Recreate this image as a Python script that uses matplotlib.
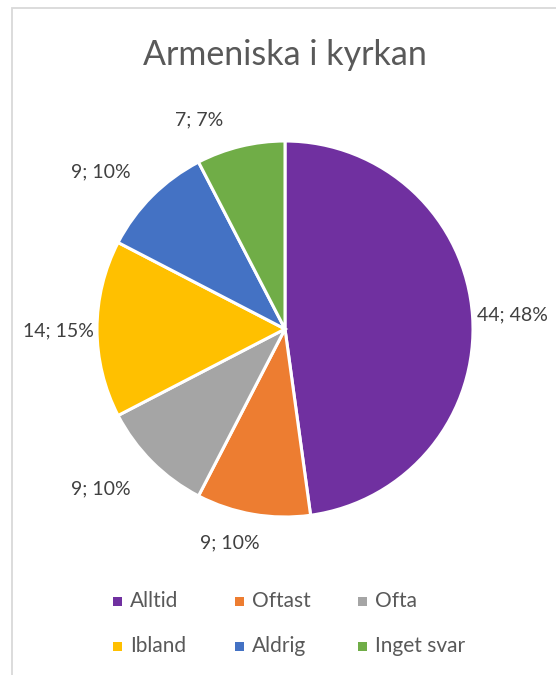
import matplotlib.pyplot as plt
from matplotlib.patches import Rectangle

# svar på frågan om armeniska i kyrkan
kategorier = ['Alltid', 'Oftast', 'Ofta', 'Ibland', 'Aldrig', 'Inget svar']
antal = [44, 9, 9, 14, 9, 7]
procent = [48, 10, 10, 15, 10, 7]
farger = ['#7030A0', '#ED7D31', '#A5A5A5', '#FFC000', '#4472C4', '#70AD47']

# etikettens mitt, i radieenheter från cirkelns centrum
etikett_pos = [(1.21, 0.074), (-0.295, -1.14), (-0.98, -0.85),
               (-1.204, -0.01), (-0.98, 0.835), (-0.457, 1.11)]

plt.rcParams['font.family'] = ['Lato', 'DejaVu Sans']

W, H = 556, 675
fig = plt.figure(figsize=(W / 100, H / 100), dpi=100)

# ram runt diagrammet
fig.patches.append(Rectangle((12 / W, -0.1), 1.2, (H - 8) / H + 0.1,
                             transform=fig.transFigure, fill=False,
                             edgecolor='#D9D9D9', linewidth=1.3))

cx, cy, r = 285, 329, 188
ax = fig.add_axes([(cx - r) / W, (H - cy - r) / H, 2 * r / W, 2 * r / H])

wedges, _ = ax.pie(antal, colors=farger, startangle=90, counterclock=False,
                   radius=1.0, wedgeprops=dict(edgecolor='white', linewidth=2.2))
ax.set_xlim(-1, 1)
ax.set_ylim(-1, 1)
ax.set_aspect('equal')
ax.axis('off')

for n, p, (x, y) in zip(antal, procent, etikett_pos):
    ax.text(x, y, f'{n}; {p}%', ha='center', va='center', fontsize=14,
            color='#404040', clip_on=False)

fig.text(cx / W, 1 - 55 / H, 'Armeniska i kyrkan', ha='center', va='center',
         fontsize=24.5, color='#595959')

# förklaring i två rader
kol_x = [117, 239, 362]
rad_y = [601, 646]
for i, (namn, farg) in enumerate(zip(kategorier, farger)):
    mx = kol_x[i % 3]
    my = rad_y[i // 3]
    s = 9
    fig.patches.append(Rectangle(((mx - s / 2) / W, 1 - (my + s / 2) / H), s / W, s / H,
                                 transform=fig.transFigure, facecolor=farg,
                                 edgecolor='none'))
    fig.text((mx + 13) / W, 1 - my / H, namn, ha='left', va='center',
             fontsize=15, color='#595959')

fig.savefig('out.png', dpi=100)
